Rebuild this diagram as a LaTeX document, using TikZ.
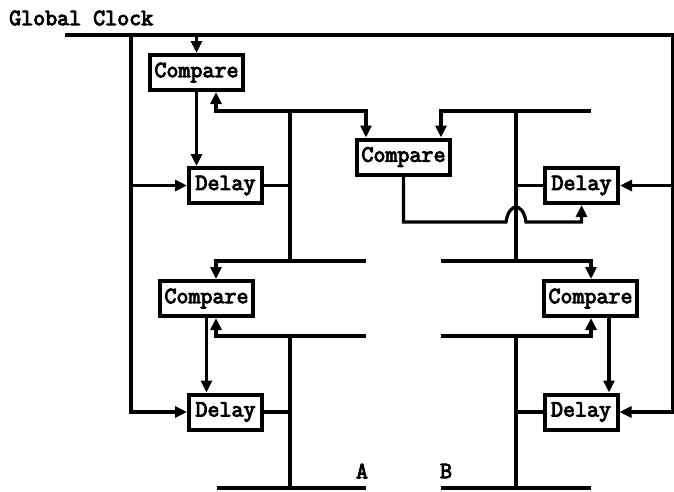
\documentclass[tikz,border=0pt]{standalone}
\usepackage{fontspec}
\setmonofont{Latin Modern Mono}[AutoFakeBold=4]
\usetikzlibrary{arrows.meta}
\begin{document}
\begin{tikzpicture}[x=1pt,y=-1pt,
  wire/.style={line width=3.2pt},
  arr/.style={wire,-{Triangle[length=12pt,width=11pt]}},
  arr2/.style={wire,{Triangle[length=12pt,width=11pt]}-{Triangle[length=12pt,width=11pt]}},
  box/.style={draw,line width=4pt,rectangle,inner sep=0pt,fill=white,
    font=\ttfamily\bfseries\fontsize{23.3}{25}\selectfont},
  cbox/.style={box,minimum width=93pt,minimum height=35pt},
  dbox/.style={box,minimum width=73pt,minimum height=35pt},
  lbl/.style={font=\ttfamily\bfseries\fontsize{23.3}{25}\selectfont,inner sep=0pt}]
\useasboundingbox (0,0) rectangle (674,491);
% nodes
\node[lbl,anchor=west] (title) at (9,18) {Global Clock};
\node[cbox] (C1) at (196.5,72.5) {Compare};
\node[dbox] (D1) at (225.5,185.5) {Delay};
\node[cbox] (C2) at (403.5,157) {Compare};
\node[dbox] (D2) at (581.5,185.5) {Delay};
\node[cbox] (C3) at (206.5,298.5) {Compare};
\node[dbox] (D3) at (225.5,412) {Delay};
\node[cbox] (C4) at (590.5,298.5) {Compare};
\node[dbox] (D4) at (581,412) {Delay};
\node[lbl] (lA) at (362,471) {A};
\node[lbl] (lB) at (446,471) {B};
% coordinates
\coordinate (clkL) at (65,35);
\coordinate (lv) at (131,35);
\coordinate (rv) at (673,35);
\coordinate (busA1) at (290,111);
\coordinate (busA2) at (290,261);
\coordinate (endA2) at (366,261);
\coordinate (busA3) at (290,336);
\coordinate (endA3) at (366,336);
\coordinate (busA4) at (290,488);
\coordinate (botA1) at (217,488);
\coordinate (botA2) at (366,488);
\coordinate (busB1) at (516,111);
\coordinate (tr) at (591,111);
\coordinate (busB2) at (516,261);
\coordinate (begB2) at (441,261);
\coordinate (busB3) at (516,336);
\coordinate (begB3) at (441,336);
\coordinate (busB4) at (516,488);
\coordinate (botB1) at (441,488);
\coordinate (botB2) at (591,488);
\coordinate (hopL) at (506,222);
\coordinate (hopR) at (526,222);
% global clock
\draw[arr] (clkL) -- (rv) |- (D4.east);
\draw[arr] (lv) |- (D3.west);
\draw[arr] (D1.west -| lv) -- (D1.west);
\draw[arr] (D2.east -| rv) -- (D2.east);
\draw[arr] (C1.north |- clkL) -- (C1.north);
% upper left
\draw[arr] (C1.south) -- (C1.south |- D1.north);
\draw[wire] (D1.east) -- (D1.east -| busA1);
\draw[wire] (busA1) -- (busA2);
\draw[arr2] ([xshift=19.5pt]C1.south) |- (busA1) -| ([xshift=-37.5pt]C2.north);
% upper right
\draw[arr] (tr) -| ([xshift=37.5pt]C2.north);
\draw[wire] (busB1) -- (busB2);
\draw[wire] (D2.west) -- (D2.west -| busB1);
\draw[arr] (C2.south) |- (hopL) .. controls (509,202) and (523,202) .. (hopR) -| (D2.south);
% lower left
\draw[arr] (endA2) -| ([xshift=9.5pt]C3.north);
\draw[arr] (endA3) -| ([xshift=9.5pt]C3.south);
\draw[wire] (busA3) -- (busA4);
\draw[wire] (botA1) -- (botA2);
\draw[arr] (C3.south) -- (C3.south |- D3.north);
\draw[wire] (D3.east) -- (D3.east -| busA3);
% lower right
\draw[arr] (begB2) -| ([xshift=0.5pt]C4.north);
\draw[arr] (begB3) -| ([xshift=0.5pt]C4.south);
\draw[wire] (busB3) -- (busB4);
\draw[wire] (botB1) -- (botB2);
\draw[arr] ([xshift=18.5pt]C4.south) -- ([xshift=18.5pt]C4.south |- D4.north);
\draw[wire] (D4.west) -- (D4.west -| busB3);
\end{tikzpicture}
\end{document}
